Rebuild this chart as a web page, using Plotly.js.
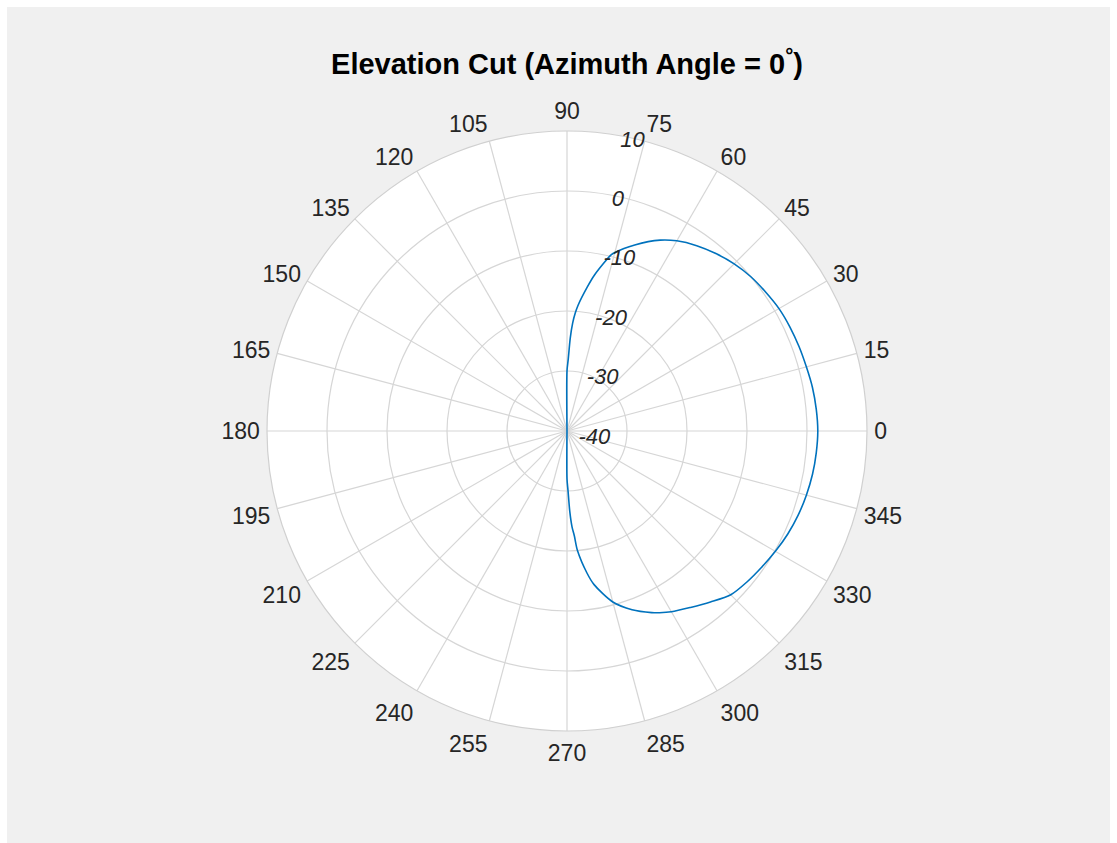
<!DOCTYPE html>
<html>
<head>
<meta charset="utf-8">
<script src="https://cdn.plot.ly/plotly-3.0.1.min.js"></script>
<style>html,body{margin:0;padding:0;background:#ffffff;}#chart{width:1117px;height:843px;}</style>
</head>
<body>
<div id="chart"></div>
<script>
// Elevation angle (degrees) and directivity (dBi)
var elevationDeg = [-90, -89, -88, -87, -86, -85, -82, -80, -75, -70, -65, -63, -60, -55, -50, -45, -40, -35, -30, -25, -20, -15, -10, -5, 0,
                    5, 10, 15, 20, 25, 30, 35, 40, 45, 50, 55, 60, 64, 70, 75, 76, 80, 82, 85, 86, 87, 88, 89, 90,
                    91, 180, 269, 270];
var directivityDb = [-32, -30, -26.5, -24, -22.5, -20, -16.1, -14, -10.5, -8.3, -6.6, -6.0, -5.2, -4.1, -2.8, -1.4, -0.85, -0.4, 0.1, 0.6, 1.0, 1.3, 1.55, 1.7, 1.8,
                     1.7, 1.55, 1.3, 1.15, 1.0, 0.8, 0.4, 0.0, -0.6, -1.4, -2.3, -3.4, -4.6, -7.0, -9.2, -9.8, -13.6, -15.8, -19.0, -20.3, -22.0, -24.5, -28.0, -30.0,
                     -40, -40, -40, -32];
var angleTicks = [0, 15, 30, 45, 60, 75, 90, 105, 120, 135, 150, 165, 180, 195, 210, 225, 240, 255, 270, 285, 300, 315, 330, 345];
var angleTickText = ['0', '15', '30', '45', '60', '75', '90', '105', '120', '135', '150', '165', '180', '195', '210', '225', '240', '255', '270', '285', '300', '315', '330', '345'];
var radialTicks = [-40, -30, -20, -10, 0, 10];
var radialTickText = ['-40', '-30', '-20', '-10', '0', '10'];
var titleText = 'Elevation Cut (Azimuth Angle = 0<sup>°</sup>)';

var W = 1117, H = 843;
var cx = 567, cy = 431, R = 300;

var trace = {
  type: 'scatterpolar',
  mode: 'lines',
  theta: elevationDeg,
  r: directivityDb,
  line: {color: '#0072BD', width: 1.6, shape: 'spline', smoothing: 0.8},
  hoverinfo: 'skip',
  showlegend: false
};

var layout = {
  width: W, height: H,
  margin: {l: 0, r: 0, t: 0, b: 0},
  paper_bgcolor: '#ffffff',
  font: {family: 'Liberation Sans, Arial, sans-serif', color: '#262626'},
  showlegend: false,
  title: {
    text: '<b>' + titleText + '</b>',
    font: {family: 'Liberation Sans, Arial, sans-serif', size: 29, color: '#000000'},
    x: cx / W, xanchor: 'center',
    y: 1 - 64 / H, yanchor: 'middle',
    xref: 'paper', yref: 'paper'
  },
  shapes: [{
    type: 'rect', xref: 'paper', yref: 'paper', layer: 'below',
    x0: 7 / W, x1: 1110 / W, y0: 0, y1: 1 - 7 / H,
    fillcolor: '#f0f0f0', line: {width: 0}
  }],
  polar: {
    domain: {x: [(cx - R) / W, (cx + R) / W], y: [(H - (cy + R)) / H, (H - (cy - R)) / H]},
    bgcolor: '#ffffff',
    angularaxis: {
      direction: 'counterclockwise',
      rotation: 0,
      tickmode: 'array',
      tickvals: angleTicks,
      ticktext: angleTickText,
      ticks: 'outside',
      ticklen: 2,
      tickcolor: 'rgba(0,0,0,0)',
      tickfont: {size: 23, color: '#262626'},
      showgrid: true,
      gridcolor: '#d6d6d6',
      gridwidth: 1.2,
      showline: true,
      linecolor: '#d0d0d0',
      linewidth: 1.2
    },
    radialaxis: {
      range: [-40, 10],
      angle: 82,
      side: 'clockwise',
      tickmode: 'array',
      tickvals: radialTicks,
      ticktext: radialTickText,
      ticks: '',
      showline: false,
      showgrid: true,
      gridcolor: '#d6d6d6',
      gridwidth: 1.2,
      tickangle: 82,
      tickfont: {size: 22, color: '#262626', style: 'italic'}
    }
  }
};

Plotly.newPlot('chart', [trace], layout, {staticPlot: true, displayModeBar: false});
</script>
</body>
</html>
